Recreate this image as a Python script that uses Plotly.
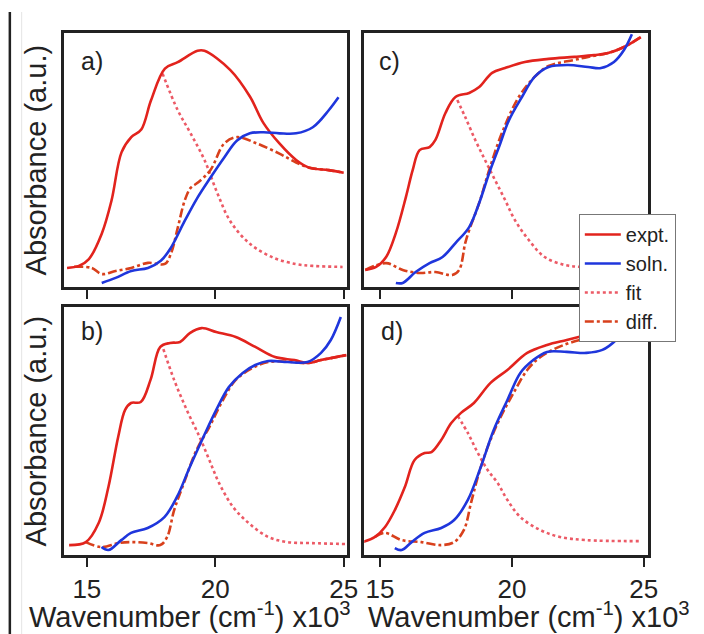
import plotly.graph_objects as go

W, H = 704, 634

# ---------------- data (x in 10^3 cm^-1, y in a.u.) ----------------
A_EXPT_X = [14.23, 14.69, 15.08, 15.58, 15.96, 16.35, 16.73, 17.12, 17.5, 18.04, 18.54, 19.31, 19.58, 20.58, 21.35, 21.88, 22.5, 23.15, 23.65, 24.42, 25.0]
A_EXPT_Y = [0.075, 0.083, 0.11, 0.21, 0.34, 0.53, 0.59, 0.62, 0.735, 0.86, 0.885, 0.93, 0.93, 0.855, 0.75, 0.645, 0.565, 0.5, 0.47, 0.46, 0.45]
A_SOLN_X = [15.58, 16.12, 16.73, 17.38, 17.88, 18.27, 18.81, 19.31, 19.81, 20.35, 20.85, 21.35, 21.88, 22.5, 23.15, 23.8, 24.42, 24.8]
A_SOLN_Y = [0.016, 0.036, 0.063, 0.075, 0.103, 0.154, 0.26, 0.352, 0.43, 0.51, 0.577, 0.605, 0.609, 0.605, 0.605, 0.629, 0.696, 0.747]
A_FIT_X = [17.95, 18.54, 19.04, 19.58, 20.08, 20.58, 21.35, 22.27, 23.15, 23.8, 24.96]
A_FIT_Y = [0.84, 0.696, 0.605, 0.50, 0.37, 0.26, 0.17, 0.115, 0.09, 0.083, 0.079]
A_DIFF_X = [14.5, 15.19, 15.58, 16.12, 16.73, 17.38, 18.04, 18.27, 18.54, 18.81, 19.04, 19.31, 19.81, 20.35, 20.85, 21.62, 22.5, 23.15, 23.65, 24.42, 25.0]
A_DIFF_Y = [0.08, 0.075, 0.051, 0.063, 0.075, 0.095, 0.091, 0.13, 0.233, 0.34, 0.39, 0.41, 0.46, 0.565, 0.59, 0.565, 0.525, 0.49, 0.47, 0.46, 0.45]

B_EXPT_X = [14.31, 14.96, 15.46, 15.84, 16.22, 16.49, 16.72, 17.1, 17.48, 17.86, 18.24, 18.63, 19.01, 19.47, 20.04, 20.8, 21.56, 22.33, 23.09, 23.59, 24.12, 25.11]
B_EXPT_Y = [0.04, 0.052, 0.129, 0.274, 0.476, 0.585, 0.613, 0.617, 0.706, 0.839, 0.855, 0.859, 0.895, 0.915, 0.899, 0.879, 0.839, 0.798, 0.786, 0.774, 0.786, 0.806]
B_SOLN_X = [15.57, 15.84, 16.34, 16.72, 17.37, 18.02, 18.51, 19.01, 19.54, 20.04, 20.53, 21.07, 21.56, 22.06, 22.82, 23.59, 24.12, 24.5, 24.89]
B_SOLN_Y = [0.032, 0.02, 0.06, 0.089, 0.109, 0.153, 0.234, 0.355, 0.476, 0.585, 0.677, 0.734, 0.766, 0.782, 0.778, 0.778, 0.815, 0.867, 0.96]
B_FIT_X = [17.98, 18.4, 18.89, 19.39, 19.77, 20.15, 20.69, 21.3, 22.06, 22.82, 23.74, 25.11]
B_FIT_Y = [0.83, 0.706, 0.585, 0.476, 0.383, 0.29, 0.194, 0.129, 0.073, 0.052, 0.048, 0.044]
B_DIFF_X = [14.96, 15.57, 16.22, 16.72, 17.37, 17.86, 18.13, 18.4, 18.78, 19.27, 19.77, 20.3, 20.8, 21.45, 22.06, 22.82, 23.59, 24.12, 25.11]
B_DIFF_Y = [0.052, 0.032, 0.048, 0.052, 0.048, 0.04, 0.073, 0.181, 0.29, 0.423, 0.516, 0.625, 0.706, 0.754, 0.778, 0.78, 0.774, 0.786, 0.806]

C_EXPT_X = [14.44, 14.85, 15.23, 15.6, 15.98, 16.24, 16.5, 16.88, 17.1, 17.48, 17.86, 18.38, 18.76, 19.25, 19.74, 20.49, 21.39, 22.37, 23.12, 23.65, 24.25, 24.89]
C_EXPT_Y = [0.067, 0.079, 0.118, 0.213, 0.354, 0.461, 0.539, 0.551, 0.579, 0.685, 0.748, 0.764, 0.787, 0.843, 0.862, 0.886, 0.898, 0.906, 0.913, 0.921, 0.945, 0.984]
C_SOLN_X = [15.6, 15.86, 16.35, 16.88, 17.37, 17.86, 18.38, 18.76, 19.14, 19.51, 19.89, 20.38, 20.86, 21.39, 22.14, 22.89, 23.38, 23.87, 24.25, 24.55]
C_SOLN_Y = [0.016, 0.016, 0.059, 0.094, 0.118, 0.173, 0.236, 0.331, 0.449, 0.551, 0.657, 0.748, 0.827, 0.866, 0.874, 0.866, 0.862, 0.886, 0.933, 0.995]
C_FIT_X = [17.93, 18.23, 18.61, 18.98, 19.36, 19.74, 20.11, 20.64, 21.24, 21.99, 22.63, 23.5, 24.9]
C_FIT_Y = [0.736, 0.669, 0.579, 0.5, 0.421, 0.343, 0.264, 0.185, 0.118, 0.087, 0.079, 0.075, 0.073]
C_DIFF_X = [14.44, 15.23, 15.86, 16.5, 17.1, 17.74, 18.0, 18.23, 18.38, 18.76, 19.14, 19.62, 20.26, 20.86, 21.39, 22.37, 22.89, 23.65, 24.25, 24.89]
C_DIFF_Y = [0.067, 0.094, 0.067, 0.055, 0.059, 0.047, 0.067, 0.173, 0.224, 0.331, 0.461, 0.606, 0.748, 0.827, 0.87, 0.894, 0.906, 0.921, 0.945, 0.984]

D_EXPT_X = [14.33, 14.81, 15.19, 15.56, 15.94, 16.31, 16.69, 16.95, 17.32, 17.7, 18.07, 18.56, 19.19, 19.83, 20.58, 21.33, 22.08, 22.83, 23.58, 24.06, 24.44]
D_EXPT_Y = [0.052, 0.073, 0.113, 0.181, 0.274, 0.383, 0.411, 0.415, 0.464, 0.532, 0.573, 0.613, 0.694, 0.746, 0.815, 0.847, 0.867, 0.887, 0.907, 0.948, 0.988]
D_SOLN_X = [15.56, 15.82, 16.2, 16.69, 17.32, 17.81, 18.33, 18.82, 19.31, 19.83, 20.32, 20.81, 21.33, 22.08, 22.83, 23.43, 23.95, 24.33, 24.55]
D_SOLN_Y = [0.028, 0.02, 0.052, 0.089, 0.109, 0.141, 0.222, 0.355, 0.504, 0.625, 0.734, 0.786, 0.819, 0.819, 0.815, 0.827, 0.867, 0.919, 0.976]
D_FIT_X = [17.95, 18.33, 18.71, 19.08, 19.46, 19.83, 20.32, 21.07, 21.82, 22.83, 24.81]
D_FIT_Y = [0.56, 0.492, 0.411, 0.343, 0.29, 0.222, 0.153, 0.101, 0.073, 0.06, 0.056]
D_DIFF_X = [14.81, 15.19, 15.82, 16.57, 17.32, 17.81, 18.18, 18.45, 18.71, 19.08, 19.57, 20.06, 20.58, 21.07, 21.7, 22.3, 23.05, 23.8, 24.44]
D_DIFF_Y = [0.073, 0.089, 0.06, 0.052, 0.04, 0.052, 0.101, 0.21, 0.315, 0.435, 0.556, 0.653, 0.746, 0.798, 0.835, 0.859, 0.879, 0.907, 0.988]

PANEL_LABELS = ["a)", "b)", "c)", "d)"]
SERIES_NAMES = ["expt.", "soln.", "fit", "diff."]
X_TICKS = [15, 20, 25]
X_TITLE = "Wavenumber (cm<sup>-1</sup>) x10<sup>3</sup>"
Y_TITLE = "Absorbance (a.u.)"

# ---------------- styling ----------------
FONT = "Liberation Sans, Arial, Helvetica, sans-serif"
C_EXPT = "#e2231d"
C_SOLN = "#1f36dc"
C_FIT = "#ec5a66"
C_DIFF = "#d8401c"

def px(x):
    return x / W

def py(y):
    return 1 - y / H

# panel pixel boxes: (left, right, top, bottom)
BOX = {
    "a": (65, 353, 33, 287),
    "b": (65, 353, 307, 555),
    "c": (370, 658, 33, 287),
    "d": (370, 658, 307, 555),
}
XRANGE = {"a": [14.11, 25.15], "b": [14.11, 25.15], "c": [14.40, 25.15], "d": [14.40, 25.15]}
AXID = {"a": ("x", "y"), "b": ("x2", "y2"), "c": ("x3", "y3"), "d": ("x4", "y4")}

DATA = {
    "a": [(A_EXPT_X, A_EXPT_Y), (A_SOLN_X, A_SOLN_Y), (A_FIT_X, A_FIT_Y), (A_DIFF_X, A_DIFF_Y)],
    "b": [(B_EXPT_X, B_EXPT_Y), (B_SOLN_X, B_SOLN_Y), (B_FIT_X, B_FIT_Y), (B_DIFF_X, B_DIFF_Y)],
    "c": [(C_EXPT_X, C_EXPT_Y), (C_SOLN_X, C_SOLN_Y), (C_FIT_X, C_FIT_Y), (C_DIFF_X, C_DIFF_Y)],
    "d": [(D_EXPT_X, D_EXPT_Y), (D_SOLN_X, D_SOLN_Y), (D_FIT_X, D_FIT_Y), (D_DIFF_X, D_DIFF_Y)],
}
STYLES = [
    dict(color=C_EXPT, width=2.6, dash="solid"),
    dict(color=C_SOLN, width=2.6, dash="solid"),
    dict(color=C_FIT, width=2.6, dash="dot"),
    dict(color=C_DIFF, width=2.6, dash="dashdot"),
]
DRAW_ORDER = [2, 3, 0, 1]
RANKS = [1, 2, 3, 4]

fig = go.Figure()
for key in ["a", "b", "c", "d"]:
    xa, ya = AXID[key]
    for i in DRAW_ORDER:
        xs, ys = DATA[key][i]
        fig.add_trace(go.Scatter(
            x=xs, y=ys, mode="lines", name=SERIES_NAMES[i],
            line=dict(shape="spline", smoothing=1.0, **STYLES[i]),
            xaxis=xa, yaxis=ya, showlegend=(key == "a"), legendrank=RANKS[i],
            cliponaxis=True,
        ))

layout = dict(
    width=W, height=H, autosize=False,
    margin=dict(l=0, r=0, t=0, b=0),
    paper_bgcolor="white", plot_bgcolor="white",
    font=dict(family=FONT, color="#222"),
    showlegend=True,
    legend=dict(x=px(588), y=py(214), xanchor="left", yanchor="top",
                bgcolor="white", bordercolor="#777", borderwidth=1,
                font=dict(size=20, family=FONT, color="#222"),
                tracegroupgap=0, itemwidth=36),
)

for key in ["a", "b", "c", "d"]:
    l, r, t, b = BOX[key]
    xa, ya = AXID[key]
    xname = "xaxis" + xa[1:]
    yname = "yaxis" + ya[1:]
    bottom = key in ("b", "d")
    layout[xname] = dict(
        domain=[px(l), px(r)], range=XRANGE[key], anchor=ya,
        tickvals=X_TICKS, ticks="outside", ticklen=9, tickwidth=2, tickcolor="#222",
        showticklabels=bottom, tickfont=dict(size=26, family=FONT, color="#222"),
        showline=True, linewidth=2.5, linecolor="#222", mirror=True,
        showgrid=False, zeroline=False,
    )
    layout[yname] = dict(
        domain=[py(b), py(t)], range=[0, 1], anchor=xa,
        showticklabels=False, ticks="",
        showline=True, linewidth=2.5, linecolor="#222", mirror=True,
        showgrid=False, zeroline=False,
    )

fig.update_layout(**layout)

annotations = []
# panel labels
LABEL_POS = {"a": (93, 61), "b": (93, 331), "c": (396, 61), "d": (398, 331)}
for key, lab in zip(["a", "b", "c", "d"], PANEL_LABELS):
    x0, y0 = LABEL_POS[key]
    annotations.append(dict(x=px(x0), y=py(y0), xref="paper", yref="paper",
                            text=lab, showarrow=False, xanchor="center", yanchor="middle",
                            font=dict(size=25, family=FONT, color="#222")))
# y titles
for yc in [(33 + 287) / 2, (307 + 555) / 2]:
    annotations.append(dict(x=px(37), y=py(yc), xref="paper", yref="paper",
                            text=Y_TITLE, textangle=-90, showarrow=False,
                            xanchor="center", yanchor="middle",
                            font=dict(size=29, family=FONT, color="#222")))
# x titles
for xc in [193, 537]:
    annotations.append(dict(x=px(xc), y=py(615), xref="paper", yref="paper",
                            text=X_TITLE, showarrow=False,
                            xanchor="center", yanchor="middle",
                            font=dict(size=29, family=FONT, color="#222")))
fig.update_layout(annotations=annotations)

# page frame lines on the left
fig.add_shape(type="line", xref="paper", yref="paper", x0=px(10), x1=px(10), y0=0, y1=py(12),
              line=dict(color="#222", width=2.5))
fig.add_shape(type="line", xref="paper", yref="paper", x0=px(22), x1=px(22), y0=0, y1=py(12),
              line=dict(color="#e4e4e4", width=1))

fig.write_html("out.html")
